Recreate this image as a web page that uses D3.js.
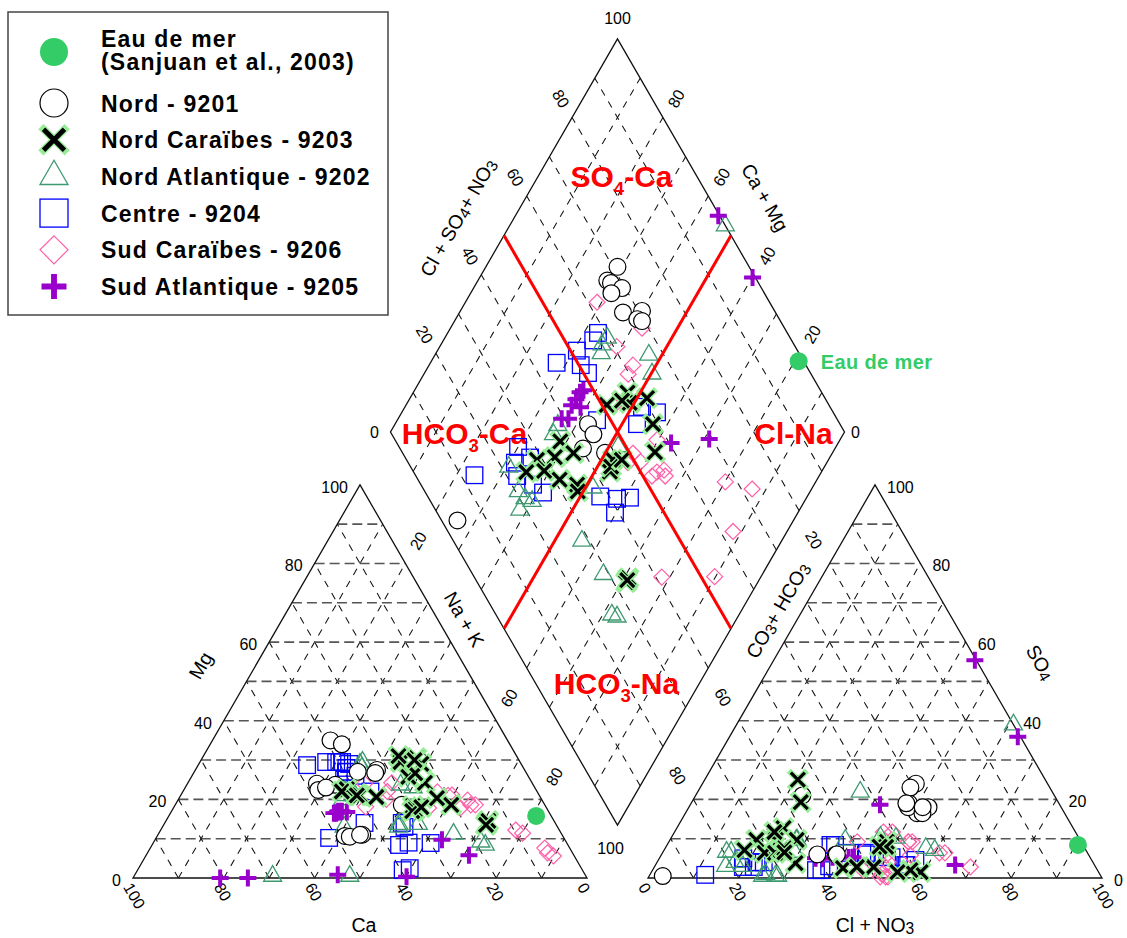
<!DOCTYPE html>
<html>
<head>
<meta charset="utf-8">
<script src="https://cdn.jsdelivr.net/npm/d3@7"></script>
<style>
  body { margin: 0; background: #fff; }
  svg { display: block; }
  text { font-family: "Liberation Sans", Arial, Helvetica, sans-serif; }
</style>
</head>
<body>
<svg id="chart" width="1127" height="938"></svg>
<script>
// Each sample: [Ca, Mg, Cl + NO3, SO4] in % of meq/L.
// Na + K = 100 - Ca - Mg ; CO3 + HCO3 = 100 - Cl - SO4.
// A null anion pair means only the cation analysis is available.
const seaWater = [[3.3, 15.8, 90.5, 8.4]];

const nord9201 = [
  [39, 35, 3, 0.5], [37, 34, 47, 24], [47.5, 24, 48, 19], [48, 22.4, 51, 16.5],
  [43.6, 23.7, 46.3, 23], [46, 23, 48.3, 18], [37, 27, 47.4, 19], [32.5, 27.5, 52.8, 18],
  [33.3, 26.7, 52.2, 16.5], [48, 10.7, 51.5, 18], [47, 10.5, 23.5, 21], [44, 11, 38.4, 6],
  [44.5, 11, 34.3, 6], [31.5, 18.6, 38.6, 6]
];

const nordCaraibes9203 = [
  [22.3, 30.5, 48, 9.2], [23.6, 24.2, 59.3, 1.5], [26.3, 29.5, 48.3, 2.8], [22, 29, 48.5, 7.9],
  [22.9, 20.3, 56.8, 2], [20.6, 18.6, 54.2, 1.5], [29.2, 18.3, 20.5, 25], [29.3, 17.3, 24, 19.3],
  [40, 21.4, 23.5, 12.7], [41.6, 22.6, 19, 9.7], [39.6, 21, 23.3, 9.7], [43, 22, 17.7, 7.1],
  [40.2, 21, 22.5, 6.4], [36.1, 20.6, 24.8, 6.4], [26.5, 25.7, 30.6, 3.8], [24.5, 26.7, 22, 11.7],
  [26, 31, 27.9, 9.7], [15, 14, 25.7, 7.1], [14.5, 14.5, 26.3, 7.5], [15.5, 13.5, 26.8, 6.5],
  [23, 30, 47, 8], [30, 17, 41.7, 2.5], [27.5, 18, 44.6, 2.8]
];

const nordAtlantique9202 = [
  [34.7, 29.5, 49.5, 10.2], [35.5, 29, 35.8, 21.9], [35.6, 28, 46, 10.4], [29.2, 23.7, 59.6, 7.1],
  [26.8, 23, 57.4, 7.6], [43, 21, 28, 9.7], [43.8, 20, 29, 6.6], [42.3, 22, 14, 6.6],
  [40.9, 21, 17.2, 4], [47, 13, 19.4, 3], [40.6, 21, 15.6, 3], [34.6, 13.7, 27.8, 9.7],
  [30.3, 13.7, 27.8, 0.5], [23.8, 11.2, 28.3, 0.5], [18.8, 9.2, 25, 0.5], [18.2, 8.4, 25.4, 1],
  [52, 0.5, 61, 39], [69, 0.5, 15, 6.6], [35, 13, 38.6, 9.7]
];

const centre9204 = [
  [47.3, 28.7, 12.2, 0.8], [40.5, 29.5, 22.2, 4], [41, 25, 23.5, 4], [39.2, 29.5, 18.5, 5],
  [39.5, 27, 19.5, 2.8], [51.7, 10.2, 21.9, 2.8], [36.7, 22, 21.9, 4], [42.7, 29.5, 37, 8.4],
  [39.8, 29.5, 45, 6.4], [39.6, 27, 44, 6.4], [39, 28, 51, 5.3], [37.9, 29, 55, 3.3],
  [38, 26, 45, 6], [33.7, 13, 50, 5.3], [33.8, 14, 55.3, 3.3], [34.8, 9, 56.6, 4.6],
  [42, 14, 40.6, 6.4], [37.2, 8.4, 36, 2], [39.6, 2, 38.4, 3], [37.8, 2.5, 37.2, 2],
  [30, 8.9, 36, 8.4]
];

const sudCaraibes9206 = [
  [47, 24, 52.8, 9.2], [39.7, 18.1, 62.2, 6.4], [37, 24, 54.9, 5.8], [30.9, 24.2, 52.7, 9.2],
  [33, 22, 48, 11.7], [34.2, 20, 52.2, 0.3], [19.2, 21.1, 46, 11.7], [22, 21.9, 41.5, 9.2],
  [26, 17.8, 46.4, 2], [20.1, 21, 51, 0.3], [16.4, 19.8, 50.6, 3], [16.3, 18.6, 49.6, 5.8],
  [19, 17.8, 51, 1], [15.3, 18.6, 50.9, 4], [8.5, 11.4, 61, 6.4], [5.5, 7.6, 69.6, 2.8],
  [5.5, 6.4, 53.6, 9.2], [4.6, 5.6, 52.7, 0.3], [9.6, 12.2, 35.5, 5.8]
];

const sudAtlantique9205 = [
  [54.5, 0.8, 44.3, 55.4], [39.6, 0.3, 63.5, 35.9], [27.1, 9.7, 41.8, 18.6], [23.1, 5.8, 66, 3.3],
  [46.5, 16.8, 41.6, 5.2], [46.3, 17, 39.8, 5.2], [47, 16.5, 38, 5.3], [47.5, 16.5, 34.4, 5],
  [44.5, 16.8, 39.5, 5.5], [46, 16.8, 42.5, 5.3], [45.5, 17, 36, 4.9],
  [80.8, 0, null, null], [74.7, 0, null, null]
];

const axisTicks = [0, 20, 40, 60, 80, 100];
const innerTicks = [20, 40, 60, 80];
const sideTicks = [20, 60, 80];
const faciesLimit = 50;

// ---- geometry ----
const svg = d3.select("#chart");
const SIDE = 454, GAP = 61, X0 = 133, Y0 = 878;
const SQ3 = Math.sqrt(3) / 2;
const pct = d3.scaleLinear().domain([0, 100]).range([0, SIDE]);
const AX0 = X0 + SIDE + GAP;
const DBX = X0 + SIDE + GAP / 2, DBY = Y0 - GAP * SQ3;

// a = bottom-right component, b = apex component
const triPt = (ox, a, b) => [ox + pct(a + b / 2), Y0 - pct(b) * SQ3];
const dPt = (camg, an) => [DBX + pct((an - camg) / 2), DBY - pct(an + camg) * SQ3];
const cationPt = s => triPt(X0, 100 - s[0] - s[1], s[1]);
const anionPt = s => triPt(AX0, s[2], s[3]);
const diamondPt = s => dPt(s[0] + s[1], s[2] + s[3]);

const line = d3.line();
const gGrid = svg.append("g").attr("fill", "none");

function gridLine(pts, horizontal) {
  gGrid.append("path").attr("d", line(pts))
    .attr("stroke", horizontal ? "#555" : "#111")
    .attr("stroke-width", horizontal ? 1.6 : 1.05)
    .attr("stroke-dasharray", horizontal ? "10,5" : "7,7");
}

const steps = d3.range(10, 100, 10);
[X0, AX0].forEach(ox => {
  steps.forEach(v => {
    gridLine([triPt(ox, v, 0), triPt(ox, v, 100 - v)], false);
    gridLine([triPt(ox, 100 - v, 0), triPt(ox, 0, 100 - v)], false);
    gridLine([triPt(ox, 0, v), triPt(ox, 100 - v, v)], true);
  });
});
steps.forEach(v => {
  gridLine([dPt(0, v), dPt(100, v)], false);
  gridLine([dPt(v, 0), dPt(v, 100)], false);
});

const gFrame = svg.append("g").attr("fill", "none").attr("stroke", "#111").attr("stroke-width", 1.3);
[X0, AX0].forEach(ox => {
  gFrame.append("path").attr("d", line([triPt(ox, 0, 0), triPt(ox, 100, 0), triPt(ox, 0, 100)]) + "Z");
});
gFrame.append("path").attr("d", line([dPt(0, 0), dPt(100, 0), dPt(100, 100), dPt(0, 100)]) + "Z");

// ---- text helpers ----
function richText(parent, str, x, y, opt) {
  const o = Object.assign({ size: 16, rotate: 0, anchor: "middle", weight: "normal",
    fill: "#000", subScale: 0.8, subDy: 3, baseline: "central", spacing: 0 }, opt || {});
  const t = parent.append("text")
    .attr("transform", `translate(${x},${y}) rotate(${o.rotate})`)
    .attr("text-anchor", o.anchor).attr("dominant-baseline", o.baseline)
    .attr("font-size", o.size).attr("font-weight", o.weight).attr("fill", o.fill)
    .attr("letter-spacing", o.spacing);
  const parts = str.split(/(_\d)/).filter(p => p.length);
  let lowered = false;
  parts.forEach(p => {
    if (p[0] === "_") {
      t.append("tspan").attr("font-size", o.size * o.subScale).attr("dy", o.subDy).text(p.slice(1));
      lowered = true;
    } else {
      const ts = t.append("tspan").text(p);
      if (lowered) { ts.attr("dy", -o.subDy); lowered = false; }
    }
  });
  return t;
}

const gText = svg.append("g");

// cation triangle labels
axisTicks.forEach(v => {
  const [x, y] = triPt(X0, 0, v);
  richText(gText, String(v), x - 12, y + 2, { anchor: "end" });
  const [bx, by] = triPt(X0, 100 - v, 0);
  richText(gText, String(v), bx - 5, by + 6, { anchor: "start", rotate: 60 });
});
{
  const [x, y] = triPt(X0, 0, 50);
  richText(gText, "Mg", x - 46, y - 16, { size: 19.5, rotate: -60 });
  richText(gText, "Ca", X0 + SIDE / 2 + 4, Y0 + 47, { size: 19.5 });
}

// anion triangle labels
axisTicks.forEach(v => {
  const [x, y] = triPt(AX0, 100 - v, v);
  richText(gText, String(v), x + 12, y + 2, { anchor: "start" });
  const [bx, by] = triPt(AX0, v, 0);
  richText(gText, String(v), bx - 5, by + 6, { anchor: "start", rotate: 60 });
});
{
  const [x, y] = triPt(AX0, 50, 50);
  richText(gText, "SO_4", x + 52, y - 19, { size: 19.5, rotate: 60 });
  richText(gText, "Cl + NO_3", AX0 + SIDE / 2, Y0 + 47, { size: 19.5 });
}

// diamond labels
innerTicks.forEach(v => {
  const [x1, y1] = dPt(100, v);
  richText(gText, String(v), x1 - 11, y1 - 19, { rotate: 60 });
  const [x2, y2] = dPt(v, 100);
  richText(gText, String(v), x2 + 13, y2 - 19, { rotate: -60 });
});
sideTicks.forEach(v => {
  const [x1, y1] = dPt(100 - v, 0);
  richText(gText, String(v), x1 - 18, y1 + 30, { rotate: -60 });
  const [x2, y2] = dPt(0, 100 - v);
  richText(gText, String(v), x2 + 15, y2 + 29, { rotate: 60 });
});
{
  let p = dPt(100, 0); richText(gText, "0", p[0] - 16, p[1]);
  p = dPt(0, 100); richText(gText, "0", p[0] + 11, p[1]);
  p = dPt(100, 100); richText(gText, "100", p[0], p[1] - 21);
  p = dPt(0, 0); richText(gText, "100", p[0] - 7, p[1] + 23);
  p = dPt(100, 50); richText(gText, "Cl + SO_4+ NO_3", p[0] - 46, p[1] - 18, { size: 19.5, rotate: -60 });
  p = dPt(50, 100); richText(gText, "Ca + Mg", p[0] + 34, p[1] - 38, { size: 19.5, rotate: 60 });
  p = dPt(60, 0); richText(gText, "Na + K", p[0] - 17, p[1] + 30, { size: 19.5, rotate: 60 });
  p = dPt(0, 60); richText(gText, "CO_3+ HCO_3", p[0] + 24, p[1] + 21, { size: 19.5, rotate: -60 });
}

// water type labels
{
  const top = dPt(100, 100), left = dPt(100, 0), right = dPt(0, 100), bottom = dPt(0, 0);
  const red = { size: 30, weight: "bold", fill: "#ff0000", subScale: 0.62, subDy: 8, baseline: "auto" };
  richText(gText, "SO_4-Ca", top[0] + 4, top[1] + 148, red);
  richText(gText, "HCO_3-Ca", left[0] + 74, left[1] + 12, red);
  richText(gText, "Cl-Na", right[0] - 51, right[1] + 12, red);
  richText(gText, "HCO_3-Na", bottom[0] - 1, bottom[1] - 131, red);
}

// ---- markers ----
function marker(g, kind, x, y, r) {
  switch (kind) {
    case "sea":
      g.append("circle").attr("cx", x).attr("cy", y).attr("r", r).attr("fill", "#33cc66");
      break;
    case "circle":
      g.append("circle").attr("cx", x).attr("cy", y).attr("r", r)
        .attr("fill", "#fff").attr("stroke", "#000").attr("stroke-width", 1.2);
      break;
    case "x": {
      const d = `M${x - r},${y - r}L${x + r},${y + r}M${x - r},${y + r}L${x + r},${y - r}`;
      const w = r * 0.46;
      g.append("path").attr("d", d).attr("fill", "none").attr("stroke", "#98ec98")
        .attr("stroke-width", w + 2.6).attr("stroke-linecap", "square");
      g.append("path").attr("d", d).attr("fill", "none").attr("stroke", "#000")
        .attr("stroke-width", w);
      break;
    }
    case "triangle": {
      const h = 2 * r * SQ3;
      g.append("path").attr("d", `M${x},${y - 2 * h / 3}L${x + r},${y + h / 3}L${x - r},${y + h / 3}Z`)
        .attr("fill", "none").attr("stroke", "#3d9970").attr("stroke-width", 1.3);
      break;
    }
    case "square":
      g.append("rect").attr("x", x - r).attr("y", y - r).attr("width", 2 * r).attr("height", 2 * r)
        .attr("fill", "none").attr("stroke", "#0000ff").attr("stroke-width", 1.3);
      break;
    case "diamond":
      g.append("path").attr("d", `M${x},${y - r}L${x + r},${y}L${x},${y + r}L${x - r},${y}Z`)
        .attr("fill", "none").attr("stroke", "#ff5fa8").attr("stroke-width", 1.2);
      break;
    case "cross":
      g.append("path").attr("d", `M${x - r},${y}L${x + r},${y}M${x},${y - r}L${x},${y + r}`)
        .attr("fill", "none").attr("stroke", "#9900cc").attr("stroke-width", r * 0.47);
      break;
  }
}

const plotSize = { sea: 9, circle: 8.4, x: 7, triangle: 9, square: 8.3, diamond: 8, cross: 8.5 };
const legendSize = { sea: 14, circle: 14, x: 10.5, triangle: 14, square: 14, diamond: 14, cross: 12.5 };

const drawOrder = [
  { kind: "square", data: centre9204 },
  { kind: "diamond", data: sudCaraibes9206 },
  { kind: "triangle", data: nordAtlantique9202 },
  { kind: "cross", data: sudAtlantique9205 },
  { kind: "circle", data: nord9201 },
  { kind: "x", data: nordCaraibes9203 },
  { kind: "sea", data: seaWater }
];

const gPts = svg.append("g");
drawOrder.forEach(s => {
  const g = gPts.append("g");
  s.data.forEach(d => {
    const r = plotSize[s.kind];
    const c = cationPt(d);
    marker(g, s.kind, c[0], c[1], r);
    if (d[2] !== null) {
      const a = anionPt(d);
      marker(g, s.kind, a[0], a[1], r);
      const m = diamondPt(d);
      marker(g, s.kind, m[0], m[1], r);
    }
  });
});

// sea water label next to its diamond position
{
  const p = diamondPt(seaWater[0]);
  svg.append("text").attr("x", p[0] + 22).attr("y", p[1] + 8)
    .attr("font-size", 20).attr("font-weight", "bold").attr("letter-spacing", 0.4)
    .attr("fill", "#33cc66").text("Eau de mer");
}

// classification lines
const gRed = svg.append("g").attr("stroke", "#ff0000").attr("stroke-width", 3).attr("fill", "none");
gRed.append("path").attr("d", line([dPt(0, faciesLimit), dPt(100, faciesLimit)]));
gRed.append("path").attr("d", line([dPt(faciesLimit, 0), dPt(faciesLimit, 100)]));

// ---- legend ----
const legendItems = [
  { kind: "sea", label: ["Eau de mer", "(Sanjuan et al., 2003)"] },
  { kind: "circle", label: ["Nord - 9201"] },
  { kind: "x", label: ["Nord Caraïbes - 9203"] },
  { kind: "triangle", label: ["Nord Atlantique - 9202"] },
  { kind: "square", label: ["Centre - 9204"] },
  { kind: "diamond", label: ["Sud Caraïbes - 9206"] },
  { kind: "cross", label: ["Sud Atlantique - 9205"] }
];
const gLeg = svg.append("g");
gLeg.append("rect").attr("x", 8).attr("y", 12).attr("width", 380).attr("height", 303)
  .attr("fill", "#fff").attr("stroke", "#444").attr("stroke-width", 1.5);
let base = 46.5;
legendItems.forEach((it, i) => {
  const my = it.label.length > 1 ? base + 5.5 : base - 8.5;
  marker(gLeg, it.kind, 54, my, legendSize[it.kind]);
  it.label.forEach((txt, j) => {
    gLeg.append("text").attr("x", 101).attr("y", base + j * 23.5)
      .attr("font-size", 23).attr("font-weight", "bold").attr("letter-spacing", 1.2)
      .attr("fill", "#000").text(txt);
  });
  base += (it.label.length - 1) * 23.5 + (i === 0 ? 41.5 : 36.7);
});
</script>
</body>
</html>
